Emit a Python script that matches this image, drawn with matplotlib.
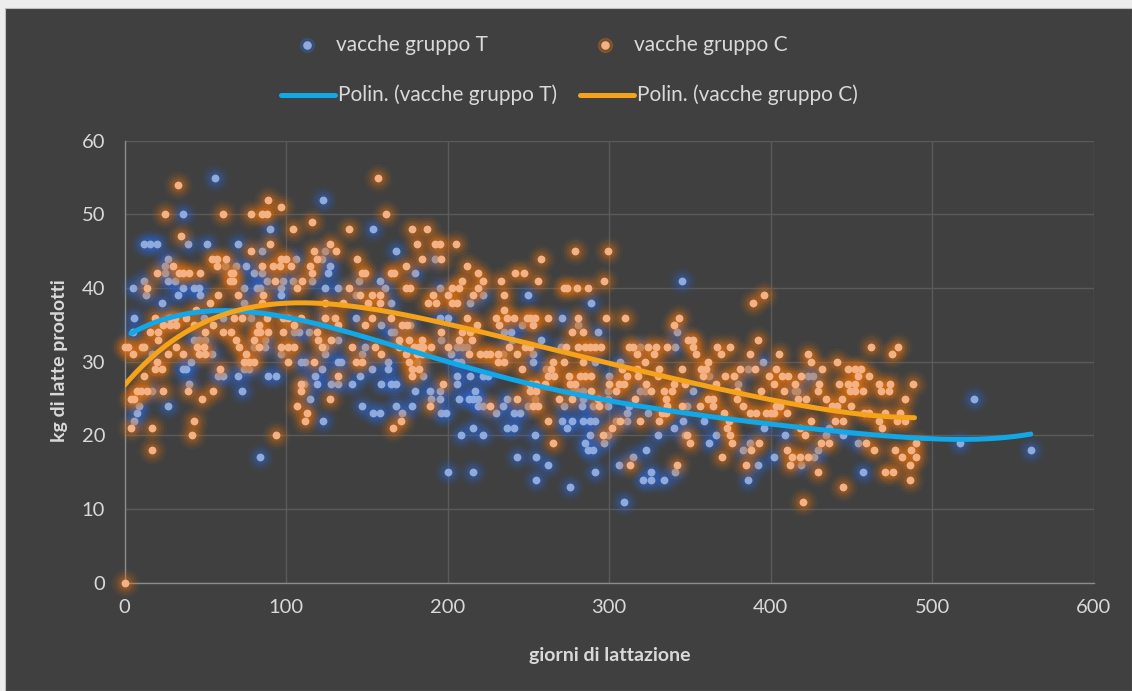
import matplotlib
matplotlib.use("Agg")
import matplotlib.pyplot as plt
import numpy as np
from matplotlib.lines import Line2D
from matplotlib.patches import Rectangle

# ---------------- data ----------------
# vacche gruppo T : (giorni di lattazione, kg di latte)
t_points = [
    (56,55),(123,52),(36,50),(90,48),(12,46),(16,46),(20,46),(39,46),(51,46),(70,46),(85,45),(124,45),
    (27,44),(106,44),(122,44),(25,43),(62,43),(69,43),(75,43),(25,42),(80,42),(85,42),(126,42),(12,41),
    (27,41),(31,41),(88,41),(98,41),(104,41),(116,41),(5,40),(36,40),(43,40),(46,40),(74,40),(82,40),
    (84,40),(97,40),(124,40),(13,39),(33,39),(47,39),(97,39),(23,38),(74,38),(6,36),(27,36),(49,36),
    (61,36),(78,36),(124,36),(5,34),(105,34),(108,34),(114,34),(43,33),(46,33),(50,33),(87,33),(80,32),
    (87,32),(17,31),(54,31),(97,31),(124,31),(41,30),(109,30),(112,30),(36,29),(38,29),(74,29),(77,29),
    (122,29),(58,28),(61,28),(70,28),(89,28),(94,28),(118,28),(40,27),(111,27),(119,27),(17,26),(73,26),
    (115,25),(9,24),(27,24),(8,23),(6,22),(123,22),(84,17),
    (154,48),(168,45),(192,44),(127,43),(180,42),(145,41),(158,41),(132,40),(161,40),(195,40),(143,39),
    (222,39),(250,39),(165,38),(214,38),(143,36),(195,36),(200,36),(159,35),(177,35),(246,35),(165,34),
    (167,34),(235,34),(239,34),(132,33),(196,33),(240,33),(124,32),(149,32),(206,32),(209,32),(212,32),
    (147,31),(202,31),(234,31),(132,30),(134,30),(163,30),(181,30),(205,30),(208,30),(153,29),(163,29),
    (146,28),(185,28),(206,28),(214,28),(222,28),(225,28),(128,27),(132,27),(141,27),(159,27),(165,27),
    (168,27),(206,27),(180,26),(189,26),(195,26),(217,26),(252,26),(190,25),(195,25),(207,25),(213,25),
    (216,25),(219,25),(237,25),(147,24),(168,24),(178,24),(219,24),(222,24),(234,24),(250,24),(154,23),
    (158,23),(172,23),(196,23),(199,23),(230,23),(241,23),(245,23),(216,21),(241,21),(237,21),(208,20),
    (222,20),(243,17),(200,15),(216,15),
    (345,41),(289,38),(271,36),(281,35),(293,34),(342,34),(258,33),(270,32),(319,32),(341,32),(253,31),
    (253,30),(291,30),(307,30),(261,29),(300,28),(362,28),(278,26),(280,26),(284,26),(299,26),(319,26),
    (322,26),(352,26),(254,25),(284,25),(299,25),(272,24),(283,24),(290,24),(299,24),(312,24),(348,24),
    (311,23),(324,23),(271,22),(277,22),(284,22),(288,22),(291,22),(304,22),(311,22),(346,22),(359,22),
    (274,21),(340,21),(254,20),(288,20),(299,20),(330,20),(347,20),(366,20),(285,19),(297,19),(362,19),
    (287,18),(290,18),(323,18),(255,17),(315,17),(262,16),(306,16),(291,15),(326,15),(341,15),(255,14),
    (321,14),(326,14),(334,14),(276,13),(309,11),
    (395,30),(386,29),(423,28),(426,28),(380,27),(415,26),(416,26),(396,21),(436,21),(409,20),(434,20),
    (445,20),(387,19),(454,19),(383,18),(429,18),(402,17),(427,17),(392,16),(419,16),(457,15),(386,14),
    (526,25),(517,19),(561,18),
]

# vacche gruppo C : (giorni di lattazione, kg di latte)
c_points = [
    (0,0),(0,32),(33,54),(89,52),(97,51),(25,50),(61,50),(78,50),(85,50),(88,50),(116,49),(104,48),(35,47),
    (90,46),(78,45),(117,45),(54,44),(57,44),(63,44),(97,44),(100,44),(119,44),(30,43),(57,43),(85,43),
    (92,43),(96,43),(103,43),(115,43),(20,42),(34,42),(36,42),(40,42),(47,42),(66,42),(67,42),(116,42),
    (65,41),(67,41),(93,41),(110,41),(14,40),(107,40),(58,39),(70,39),(86,39),(53,38),(85,38),(44,37),
    (77,37),(19,36),(28,36),(31,36),(38,36),(68,36),(73,36),(88,36),(98,36),(101,36),(109,36),(24,35),
    (28,35),(32,35),(43,35),(55,35),(83,35),(105,35),(16,34),(21,34),(50,34),(61,34),(66,34),(82,34),
    (84,34),(89,34),(98,34),(119,34),(21,33),(69,33),(80,33),(120,33),(2,32),(11,32),(12,32),(32,32),
    (45,32),(49,32),(71,32),(83,32),(97,32),(101,32),(105,32),(122,32),(5,31),(27,31),(36,31),(46,31),
    (50,31),(75,31),(20,30),(74,30),(77,30),(80,30),(101,30),(117,30),(19,29),(23,29),(59,29),(12,28),
    (109,27),(8,26),(10,26),(14,26),(24,26),(39,26),(55,26),(109,26),(4,25),(6,25),(48,25),(107,24),
    (113,23),(43,22),(112,22),(4,21),(17,21),(42,20),(94,20),(17,18),
    (157,55),(162,50),(139,48),(178,48),(187,48),(127,46),(181,46),(192,46),(195,46),(205,46),(131,45),
    (144,44),(184,44),(196,44),(174,43),(212,43),(147,42),(149,42),(165,42),(167,42),(219,42),(242,42),
    (247,42),(209,41),(222,41),(233,41),(139,40),(174,40),(177,40),(203,40),(207,40),(219,40),(146,39),
    (153,39),(158,39),(191,39),(200,39),(216,39),(235,39),(124,38),(135,38),(151,38),(158,38),(188,38),
    (193,38),(203,38),(206,38),(235,37),(124,36),(130,36),(153,36),(165,36),(212,36),(230,36),(237,36),
    (241,36),(249,36),(132,35),(149,35),(172,35),(175,35),(218,35),(232,35),(196,34),(209,34),(214,34),
    (128,33),(170,33),(176,33),(184,33),(207,33),(215,33),(141,32),(155,32),(170,32),(179,32),(182,32),
    (185,32),(190,32),(200,32),(238,32),(248,32),(159,31),(174,31),(181,31),(184,31),(213,31),(220,31),
    (224,31),(226,31),(231,31),(243,31),(143,30),(147,30),(176,30),(231,30),(235,30),(178,29),(182,29),
    (246,29),(132,28),(178,28),(197,27),(127,25),(243,25),(189,24),(226,24),(171,22),(166,21),
    (279,45),(299,45),(258,44),(256,41),(297,41),(272,40),(274,40),(280,40),(287,40),(251,36),(254,36),
    (262,36),(281,36),(298,36),(310,36),(343,36),(253,35),(340,35),(277,34),(284,34),(349,33),(352,33),
    (251,32),(273,32),(281,32),(285,32),(288,32),(291,32),(295,32),(312,32),(315,32),(324,32),(329,32),
    (336,32),(352,32),(367,32),(375,32),(317,31),(328,31),(354,31),(369,31),(265,30),(272,30),(284,30),
    (322,30),(361,30),(264,29),(308,29),(317,29),(331,29),(345,29),(357,29),(360,29),(262,28),(266,28),
    (275,28),(282,28),(285,28),(289,28),(311,28),(318,28),(330,28),(358,28),(372,28),(377,28),(251,27),
    (255,27),(260,27),(276,27),(279,27),(300,27),(306,27),(309,27),(323,27),(340,27),(347,27),(366,27),
    (251,26),(255,26),(289,26),(304,26),(326,26),(334,26),(339,26),(379,26),(269,25),(277,25),(293,25),
    (316,25),(335,25),(361,25),(364,25),(379,25),(253,24),(256,24),(294,24),(336,24),(345,24),(356,24),
    (364,24),(333,23),(335,23),(371,23),(262,22),(307,22),(319,22),(331,22),(374,22),(302,21),(373,21),
    (296,20),(348,20),(375,20),(265,19),(350,19),(376,19),(370,17),(313,16),(342,16),
    (396,39),(389,38),(392,33),(462,32),(479,32),(387,31),(405,31),(423,31),(475,31),(425,30),(441,30),
    (381,29),(390,29),(403,29),(432,29),(448,29),(452,29),(456,29),(399,28),(407,28),(411,28),(419,28),
    (454,28),(461,28),(402,27),(415,27),(430,27),(442,27),(448,27),(452,27),(467,27),(474,27),(488,27),
    (394,26),(408,26),(429,26),(449,26),(452,26),(457,26),(468,26),(473,26),(417,25),(422,25),(434,25),
    (444,25),(483,25),(383,24),(403,24),(406,24),(438,24),(441,24),(450,24),(387,23),(391,23),(397,23),
    (400,23),(402,23),(410,23),(458,23),(461,23),(471,23),(480,23),(425,22),(440,22),(445,22),(467,22),
    (478,22),(483,22),(418,21),(469,21),(421,20),(393,19),(431,19),(436,19),(459,19),(490,19),(388,18),
    (410,18),(464,18),(477,18),(487,18),(413,17),(418,17),(423,17),(481,17),(490,17),(385,16),(412,16),
    (486,16),(429,15),(471,15),(476,15),(486,14),(445,13),(420,11),
]

# polynomial trend curves (giorni, kg)
trend_t_days = [4, 25, 50, 65, 85, 100, 125, 150, 186, 220, 252, 280, 313, 350, 380, 410, 440, 490, 510, 530, 545, 561]
trend_t_kg = [33.8, 35.8, 36.9, 37.0, 36.6, 35.9, 34.7, 33.2, 31.2, 28.8, 26.8, 25.5, 24.2, 23.0, 22.0, 21.3, 20.6, 19.7, 19.4, 19.5, 19.7, 20.2]
trend_c_days = [0, 16, 37, 58, 78, 99, 124, 165, 206, 252, 313, 380, 440, 489]
trend_c_kg = [26.8, 30.5, 33.7, 36.3, 37.4, 37.9, 37.8, 36.8, 34.7, 32.5, 29.0, 25.8, 23.3, 22.4]

x_ticks = [0, 100, 200, 300, 400, 500, 600]
y_ticks = [0, 10, 20, 30, 40, 50, 60]

# ---------------- style ----------------
W, H = 1132, 691
BG = "#404040"
TXT = "#D9D9D9"
GRID = "#5A5A5A"
T_CORE, T_GLOW = "#8FAADC", "#2E68D6"
C_CORE, C_GLOW = "#F4B183", "#E8740F"
T_LINE, C_LINE = "#12A8E8", "#F5A31A"
FONT = "Lato"

plt.rcParams["font.family"] = [FONT, "DejaVu Sans"]

fig = plt.figure(figsize=(W / 100, H / 100), dpi=100, facecolor="#EDEDED")
fig.add_artist(Rectangle((5 / W, 0), 1 - 5 / W, 1 - 8 / H, transform=fig.transFigure,
                         facecolor=BG, edgecolor="#BFBFBF", lw=0.8, zorder=0))

ax = fig.add_axes([124.5 / W, 1 - 582.7 / H, (1093.8 - 124.5) / W, (582.7 - 140.7) / H])
ax.set_facecolor(BG)
ax.set_xlim(0, 600)
ax.set_ylim(0, 60)
ax.set_xticks(x_ticks)
ax.set_yticks(y_ticks)
ax.grid(True, color=GRID, lw=1.0, zorder=0)
ax.set_axisbelow(True)
for side in ["top", "right"]:
    ax.spines[side].set_visible(False)
for side in ["left", "bottom"]:
    ax.spines[side].set_color("#8C8C8C")
    ax.spines[side].set_linewidth(1.0)
ax.tick_params(length=0, colors=TXT, labelsize=14.5)
ax.tick_params(axis="y", pad=14)
ax.tick_params(axis="x", pad=12)
for lab in ax.get_xticklabels() + ax.get_yticklabels():
    lab.set_color(TXT)


def glow_scatter(pts, core, glow, z):
    x = np.array([p[0] for p in pts], dtype=float)
    y = np.array([p[1] for p in pts], dtype=float)
    for s, a in [(420, 0.06), (280, 0.09), (170, 0.13), (95, 0.20)]:
        ax.scatter(x, y, s=s, color=glow, alpha=a, lw=0, zorder=z, clip_on=False)
    ax.scatter(x, y, s=32, color=core, lw=0, zorder=z + 0.5, clip_on=False)


glow_scatter(t_points, T_CORE, T_GLOW, 2)
glow_scatter(c_points, C_CORE, C_GLOW, 3)


def trend(days, kg, color, z):
    d = np.array(days, dtype=float)
    k = np.array(kg, dtype=float)
    poly = np.polynomial.Polynomial.fit(d, k, 6)
    xs = np.linspace(d.min(), d.max(), 400)
    ax.plot(xs, poly(xs), color=color, lw=3.6, solid_capstyle="round", zorder=z)


trend(trend_t_days, trend_t_kg, T_LINE, 5)
trend(trend_c_days, trend_c_kg, C_LINE, 6)

# axis titles
fig.text(60 / W, 1 - 361 / H, "kg di latte prodotti", rotation=90, ha="center", va="center",
         color=TXT, fontsize=14, fontweight="bold")
fig.text(610 / W, 1 - 655 / H, "giorni di lattazione", ha="center", va="center",
         color=TXT, fontsize=14, fontweight="bold")

# legend
def fx(px):
    return px / W


def fy(py):
    return 1 - py / H


for mx, col, glw, label in [(307, T_CORE, T_GLOW, "vacche gruppo T"), (605, C_CORE, C_GLOW, "vacche gruppo C")]:
    fig.add_artist(Line2D([fx(mx)], [fy(45)], marker="o", markersize=10, color=glw, alpha=0.3,
                          lw=0, transform=fig.transFigure))
    fig.add_artist(Line2D([fx(mx)], [fy(45)], marker="o", markersize=5.2, color=col,
                          lw=0, transform=fig.transFigure))
    fig.text(fx(mx + 29), fy(45), label, ha="left", va="center", color=TXT, fontsize=15)

for x0, col, label in [(281, T_LINE, "Polin. (vacche gruppo T)"), (580, C_LINE, "Polin. (vacche gruppo C)")]:
    fig.add_artist(Line2D([fx(x0), fx(x0 + 54)], [fy(95), fy(95)], color=col, lw=3.6,
                          solid_capstyle="round", transform=fig.transFigure))
    fig.text(fx(x0 + 57), fy(95), label, ha="left", va="center", color=TXT, fontsize=15)

fig.savefig("out.png", dpi=100, facecolor=fig.get_facecolor())
